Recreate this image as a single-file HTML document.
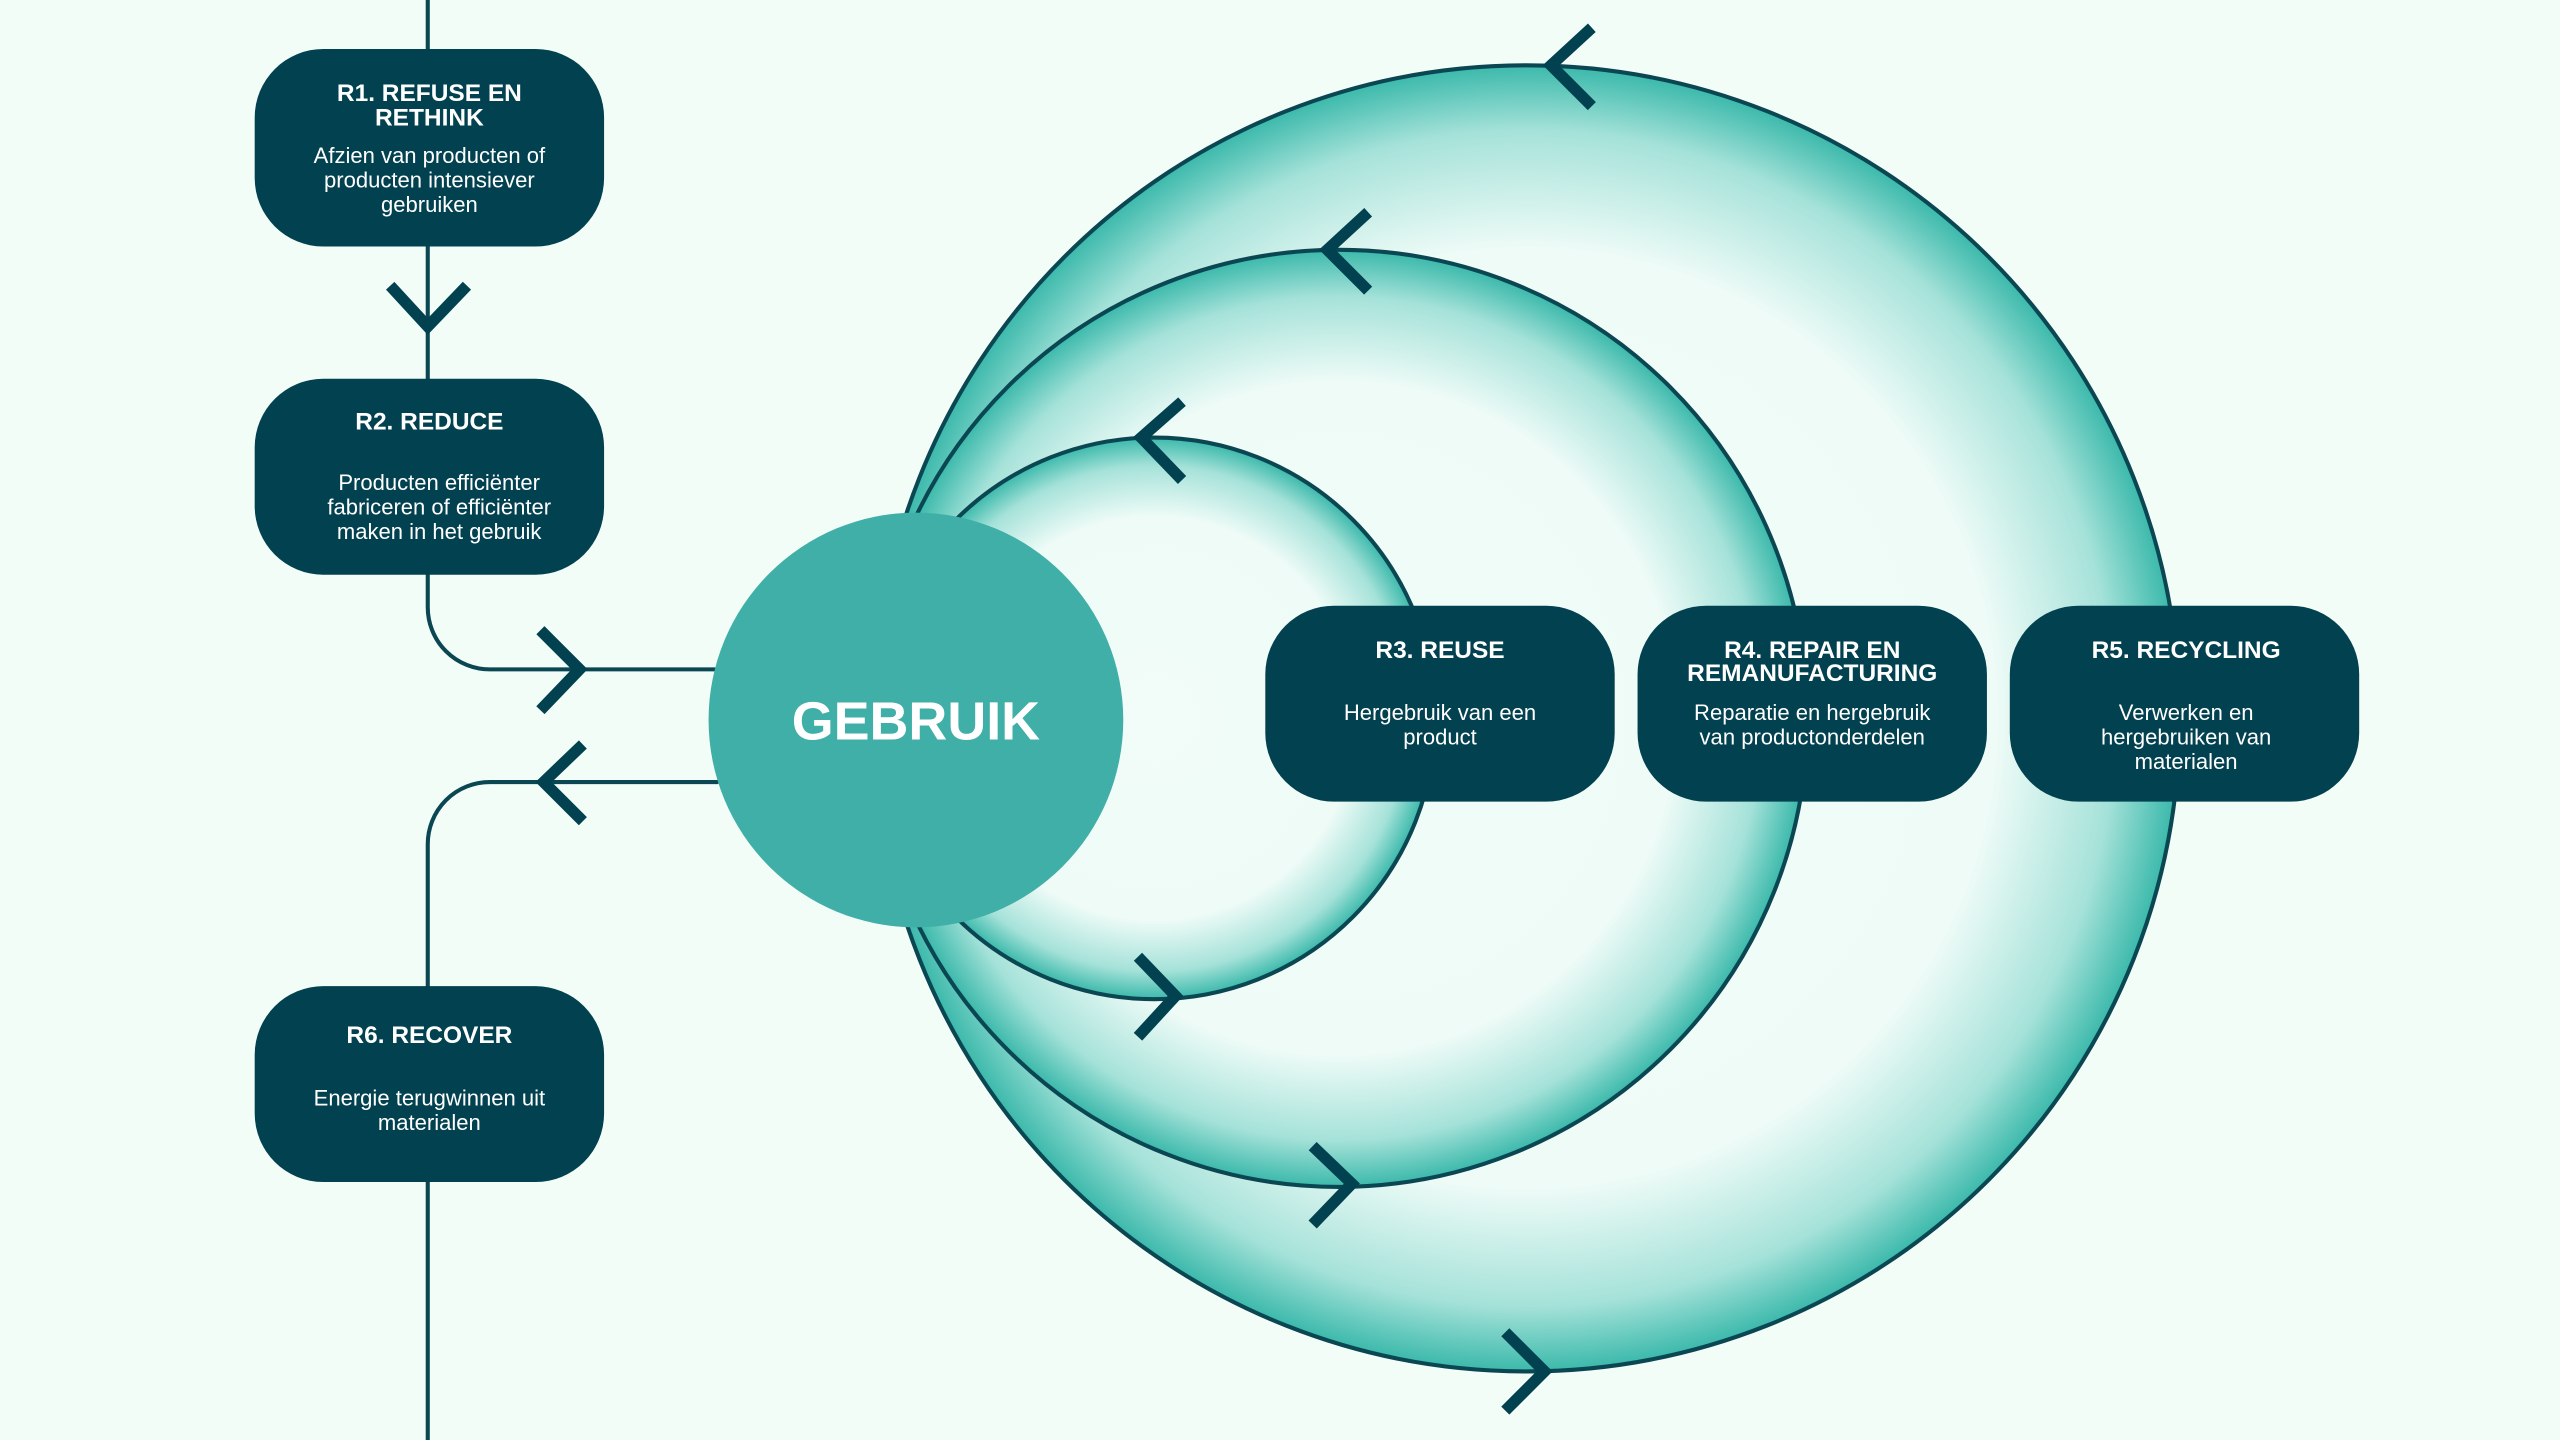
<!DOCTYPE html>
<html><head><meta charset="utf-8"><style>
html,body{margin:0;padding:0;background:#f2fdf8;}
svg{display:block;}
.t{font-family:"Liberation Sans",sans-serif;font-weight:bold;font-size:15px;fill:#fff;text-anchor:middle;}
.b{font-family:"Liberation Sans",sans-serif;font-size:13.5px;fill:#fff;text-anchor:middle;}
</style></head><body>
<svg width="2560" height="1440" viewBox="0 0 1568 882" xmlns="http://www.w3.org/2000/svg">
<defs>
<radialGradient id="g1" cx="0.5" cy="0.5" r="0.5">
<stop offset="0" stop-color="#f2fdf9"/><stop offset="0.72" stop-color="#eefbf7"/><stop offset="0.9" stop-color="#a5e2d9"/><stop offset="1" stop-color="#3bb9ab"/>
</radialGradient>
</defs>
<rect width="1568" height="882" fill="#f2fdf8"/>
<g stroke="#0b4753" stroke-width="2.5">
<circle cx="935" cy="440" r="400" fill="url(#g1)"/>
<circle cx="820" cy="440" r="287" fill="url(#g1)"/>
<circle cx="707" cy="440" r="172" fill="url(#g1)"/>
</g>
<g fill="none" stroke="#0b4753" stroke-width="2.5">
<line x1="262" y1="0" x2="262" y2="240"/>
<path d="M262 350 V372 A38 38 0 0 0 300 410 H440"/>
<path d="M262 882 V517 A38 38 0 0 1 300 479 H440"/>
</g>
<g fill="none" stroke="#02414f" stroke-width="7" stroke-linecap="butt">
<polyline points="975,17 950,40 975,65"/>
<polyline points="838,130 813,153 838,178"/>
<polyline points="724,246 699,268 724,294"/>
<polyline points="697,586 720,610 697,635"/>
<polyline points="804,702 828,725 804,750"/>
<polyline points="922,816 946,840 922,864"/>
<polyline points="239,175 262,200 286,175"/>
<polyline points="331,386 355,410 331,435"/>
<polyline points="357,456 333,479 357,503"/>
</g>
<circle cx="561" cy="441" r="127" fill="#3fafa7"/>
<text x="561" y="453" font-family="Liberation Sans,sans-serif" font-weight="bold" font-size="33" fill="#fff" text-anchor="middle">GEBRUIK</text>
<g fill="#02414f">
<rect x="156" y="30" width="214" height="121" rx="42"/>
<rect x="156" y="232" width="214" height="120" rx="42"/>
<rect x="156" y="604" width="214" height="120" rx="42"/>
<rect x="775" y="371" width="214" height="120" rx="42"/>
<rect x="1003" y="371" width="214" height="120" rx="42"/>
<rect x="1231" y="371" width="214" height="120" rx="42"/>
</g>
<text class="t" x="263" y="62">R1. REFUSE EN</text>
<text class="t" x="263" y="77">RETHINK</text>
<text class="b" x="263" y="100">Afzien van producten of</text>
<text class="b" x="263" y="115">producten intensiever</text>
<text class="b" x="263" y="130">gebruiken</text>
<text class="t" x="263" y="263">R2. REDUCE</text>
<text class="b" x="269" y="300">Producten efficiënter</text>
<text class="b" x="269" y="315">fabriceren of efficiënter</text>
<text class="b" x="269" y="330">maken in het gebruik</text>
<text class="t" x="263" y="639">R6. RECOVER</text>
<text class="b" x="263" y="677">Energie terugwinnen uit</text>
<text class="b" x="263" y="692">materialen</text>
<text class="t" x="882" y="403">R3. REUSE</text>
<text class="b" x="882" y="441">Hergebruik van een</text>
<text class="b" x="882" y="456">product</text>
<text class="t" x="1110" y="403">R4. REPAIR EN</text>
<text class="t" x="1110" y="417">REMANUFACTURING</text>
<text class="b" x="1110" y="441">Reparatie en hergebruik</text>
<text class="b" x="1110" y="456">van productonderdelen</text>
<text class="t" x="1339" y="403">R5. RECYCLING</text>
<text class="b" x="1339" y="441">Verwerken en</text>
<text class="b" x="1339" y="456">hergebruiken van</text>
<text class="b" x="1339" y="471">materialen</text>
</svg>
</body></html>
